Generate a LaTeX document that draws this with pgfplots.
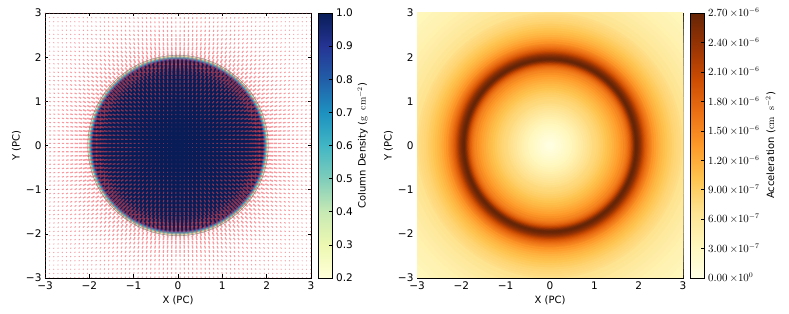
\documentclass[border=0pt]{standalone}
\usepackage[no-math]{fontspec}
\setmainfont{DejaVu Sans}
\usepackage{pgfplots}
\usepackage{pgfplotstable}
\pgfplotsset{compat=1.18}
\pgfplotsset{
 colormap={ylgnbu}{rgb255(0cm)=(255,255,217);rgb255(1cm)=(237,248,177);rgb255(2cm)=(199,233,180);rgb255(3cm)=(127,205,187);rgb255(4cm)=(65,182,196);rgb255(5cm)=(29,145,192);rgb255(6cm)=(34,94,168);rgb255(7cm)=(37,52,148);rgb255(8cm)=(8,29,88)},
 colormap={ylorbr}{rgb255(0cm)=(255,255,229);rgb255(1cm)=(255,247,188);rgb255(2cm)=(254,227,145);rgb255(3cm)=(254,196,79);rgb255(4cm)=(254,153,41);rgb255(5cm)=(236,112,20);rgb255(6cm)=(204,76,2);rgb255(7cm)=(153,52,4);rgb255(8cm)=(102,37,6)},
 panel/.style={
  scale only axis,width=266pt,height=265pt,anchor=south west,
  xmin=-3,xmax=3,ymin=-3,ymax=3,
  xtick={-3,-2,-1,0,1,2,3},ytick={-3,-2,-1,0,1,2,3},
  xticklabels={−3,−2,−1,0,1,2,3},yticklabels={−3,−2,−1,0,1,2,3},
  tick align=inside,major tick length=3.5pt,
  tick style={black,line width=0.5pt},
  axis line style={black,line width=0.8pt},
  tick label style={font=\fontsize{10.5}{12}\selectfont},
  label style={font=\fontsize{10.3}{12}\selectfont},
  xlabel={X (PC)},ylabel={Y (PC)},
  every axis x label/.style={at={(axis description cs:0.5,-0.083)},anchor=center},
  every axis y label/.style={at={(axis description cs:-0.107,0.5)},anchor=center,rotate=90},
  clip marker paths=true,
  colorbar,
  colorbar shift/.style={xshift=1pt},
 },
 disk/.style={
  scatter,only marks,mark=*,
  scatter/use mapped color={fill=mapped color,draw=mapped color},
  mark options={line width=0.1pt},
  visualization depends on={44.2*\thisrow{r} \as \rad},
  scatter/@pre marker code/.append style={/tikz/mark size=\rad},
 },
}
% mean column density against radius
\pgfplotstableread{
r v
2.03 0.35
2.01 0.50
1.99 0.62
1.97 0.75
1.95 0.90
1.93 1.00
}\densitytable
% acceleration against radius, in units of 1e-6
\pgfplotstableread{
r v
4.30 .32
4.20 .34
4.10 .36
4.00 .38
3.90 .40
3.80 .42
3.70 .445
3.60 .47
3.50 .50
3.40 .54
3.30 .58
3.20 .63
3.10 .68
3.00 .73
2.95 .76
2.90 .79
2.85 .82
2.80 .86
2.75 .90
2.70 .95
2.65 1.00
2.60 1.05
2.55 1.10
2.50 1.16
2.45 1.23
2.40 1.31
2.35 1.40
2.30 1.50
2.275 1.56
2.25 1.62
2.225 1.69
2.20 1.77
2.175 1.85
2.15 1.95
2.125 2.07
2.10 2.20
2.075 2.33
2.05 2.45
2.025 2.55
2.00 2.63
1.975 2.69
1.95 2.70
1.925 2.60
1.90 2.45
1.875 2.26
1.85 2.08
1.825 1.93
1.80 1.81
1.775 1.72
1.75 1.64
1.725 1.57
1.70 1.50
1.65 1.42
1.60 1.34
1.55 1.27
1.50 1.22
1.45 1.16
1.40 1.11
1.35 1.06
1.30 1.01
1.25 .96
1.20 .91
1.15 .87
1.10 .83
1.05 .80
1.00 .77
.95 .73
.90 .69
.85 .65
.80 .60
.75 .55
.70 .50
.65 .46
.60 .42
.55 .38
.50 .34
.45 .30
.40 .26
.35 .22
.30 .18
.25 .15
.20 .12
.15 .09
.10 .06
.05 .03
}\acctable
% arrows of one octant: grid indices i>j and magnitude m
\pgfplotstableread{
i j m
1 0 .11
2 0 .18
3 0 .25
4 0 .33
5 0 .41
6 0 .49
7 0 .58
8 0 .67
9 0 .76
10 0 .85
11 0 .95
12 0 1.04
13 0 1.12
14 0 1.2
15 0 1.3
16 0 1.41
17 0 1.55
18 0 1.78
19 0 2.2
20 0 2.7
21 0 2.45
22 0 1.97
23 0 1.66
24 0 1.46
25 0 1.31
26 0 1.18
27 0 1.06
28 0 .96
29 0 .87
30 0 .8
31 0 .74
2 1 .2
3 1 .27
4 1 .35
5 1 .43
6 1 .5
7 1 .59
8 1 .68
9 1 .77
10 1 .86
11 1 .96
12 1 1.05
13 1 1.13
14 1 1.21
15 1 1.31
16 1 1.42
17 1 1.57
18 1 1.8
19 1 2.23
20 1 2.7
21 1 2.42
22 1 1.95
23 1 1.65
24 1 1.45
25 1 1.3
26 1 1.17
27 1 1.06
28 1 .96
29 1 .87
30 1 .8
31 1 .74
3 2 .31
4 2 .39
5 2 .45
6 2 .53
7 2 .61
8 2 .7
9 2 .78
10 2 .88
11 2 .98
12 2 1.06
13 2 1.14
14 2 1.22
15 2 1.32
16 2 1.44
17 2 1.58
18 2 1.83
19 2 2.3
20 2 2.69
21 2 2.38
22 2 1.91
23 2 1.63
24 2 1.44
25 2 1.29
26 2 1.16
27 2 1.05
28 2 .95
29 2 .86
30 2 .8
31 2 .74
4 3 .43
5 3 .49
6 3 .56
7 3 .65
8 3 .73
9 3 .81
10 3 .91
11 3 1.0
12 3 1.08
13 3 1.16
14 3 1.24
15 3 1.34
16 3 1.46
17 3 1.61
18 3 1.89
19 3 2.38
20 3 2.67
21 3 2.31
22 3 1.86
23 3 1.6
24 3 1.42
25 3 1.27
26 3 1.15
27 3 1.04
28 3 .94
29 3 .85
30 3 .79
31 3 .73
5 4 .54
6 4 .61
7 4 .69
8 4 .77
9 4 .85
10 4 .94
11 4 1.03
12 4 1.1
13 4 1.18
14 4 1.27
15 4 1.37
16 4 1.49
17 4 1.65
18 4 1.97
19 4 2.5
20 4 2.63
21 4 2.21
22 4 1.79
23 4 1.56
24 4 1.39
25 4 1.25
26 4 1.14
27 4 1.02
28 4 .93
29 4 .84
30 4 .78
31 4 .72
6 5 .67
7 5 .74
8 5 .81
9 5 .9
10 5 .98
11 5 1.06
12 5 1.13
13 5 1.21
14 5 1.3
15 5 1.4
16 5 1.53
17 5 1.73
18 5 2.1
19 5 2.62
20 5 2.56
21 5 2.11
22 5 1.74
23 5 1.53
24 5 1.36
25 5 1.23
26 5 1.11
27 5 1.01
28 5 .91
29 5 .83
30 5 .77
31 5 .71
7 6 .79
8 6 .87
9 6 .95
10 6 1.03
11 6 1.1
12 6 1.17
13 6 1.25
14 6 1.34
15 6 1.46
16 6 1.59
17 6 1.83
18 6 2.27
19 6 2.7
20 6 2.45
21 6 1.99
22 6 1.68
23 6 1.48
24 6 1.33
25 6 1.2
26 6 1.09
27 6 .99
28 6 .89
29 6 .82
30 6 .76
31 6 .7
8 7 .93
9 7 1.01
10 7 1.07
11 7 1.14
12 7 1.21
13 7 1.29
14 7 1.39
15 7 1.51
16 7 1.67
17 7 1.97
18 7 2.48
19 7 2.65
20 7 2.28
21 7 1.86
22 7 1.6
23 7 1.43
24 7 1.29
25 7 1.17
26 7 1.06
27 7 .96
28 7 .87
29 7 .81
30 7 .75
31 7 .69
9 8 1.06
10 8 1.12
11 8 1.19
12 8 1.26
13 8 1.35
14 8 1.46
15 8 1.58
16 8 1.8
17 8 2.17
18 8 2.65
19 8 2.54
20 8 2.11
21 8 1.75
22 8 1.54
23 8 1.38
24 8 1.25
25 8 1.14
26 8 1.03
27 8 .94
28 8 .85
29 8 .79
30 8 .73
31 8 .68
10 9 1.18
11 9 1.24
12 9 1.32
13 9 1.41
14 9 1.52
15 9 1.68
16 9 1.97
17 9 2.45
18 9 2.67
19 9 2.35
20 9 1.93
21 9 1.66
22 9 1.47
23 9 1.33
24 9 1.2
25 9 1.1
26 9 1.0
27 9 .9
28 9 .83
29 9 .77
30 9 .71
31 9 .67
11 10 1.31
12 10 1.39
13 10 1.49
14 10 1.62
15 10 1.85
16 10 2.23
17 10 2.67
18 10 2.54
19 10 2.13
20 10 1.77
21 10 1.56
22 10 1.4
23 10 1.27
24 10 1.16
25 10 1.05
26 10 .96
27 10 .87
28 10 .81
29 10 .75
30 10 .7
31 10 .65
12 11 1.48
13 11 1.59
14 11 1.78
15 11 2.1
16 11 2.55
17 11 2.64
18 11 2.31
19 11 1.91
20 11 1.66
21 11 1.48
22 11 1.34
23 11 1.22
24 11 1.11
25 11 1.01
26 11 .92
27 11 .84
28 11 .79
29 11 .73
30 11 .68
31 11 .63
13 12 1.75
14 12 2.02
15 12 2.45
16 12 2.69
17 12 2.45
18 12 2.04
19 12 1.74
20 12 1.55
21 12 1.39
22 12 1.27
23 12 1.16
24 12 1.06
25 12 .97
26 12 .89
27 12 .82
28 12 .76
29 12 .71
30 12 .66
31 12 .62
14 13 2.38
15 13 2.7
16 13 2.52
17 13 2.15
18 13 1.81
19 13 1.6
20 13 1.45
21 13 1.33
22 13 1.21
23 13 1.11
24 13 1.01
25 13 .93
26 13 .85
27 13 .79
28 13 .74
29 13 .69
30 13 .64
31 13 .6
15 14 2.56
16 14 2.21
17 14 1.88
18 14 1.66
19 14 1.49
20 14 1.36
21 14 1.25
22 14 1.14
23 14 1.05
24 14 .96
25 14 .88
26 14 .82
27 14 .76
28 14 .71
29 14 .67
30 14 .62
31 14 .58
16 15 1.91
17 15 1.69
18 15 1.53
19 15 1.39
20 15 1.28
21 15 1.18
22 15 1.08
23 15 1.0
24 15 .91
25 15 .84
26 15 .79
27 15 .74
28 15 .69
29 15 .64
30 15 .6
31 15 .56
17 16 1.54
18 16 1.41
19 16 1.31
20 16 1.2
21 16 1.11
22 16 1.02
23 16 .94
24 16 .87
25 16 .81
26 16 .76
27 16 .71
28 16 .66
29 16 .62
30 16 .58
31 16 .55
18 17 1.32
19 17 1.22
20 17 1.12
21 17 1.04
22 17 .96
23 17 .89
24 17 .82
25 17 .77
26 17 .73
27 17 .68
28 17 .64
29 17 .6
30 17 .56
31 17 .53
19 18 1.14
20 18 1.05
21 18 .98
22 18 .9
23 18 .84
24 18 .79
25 18 .74
26 18 .69
27 18 .65
28 18 .61
29 18 .58
30 18 .54
31 18 .52
20 19 .98
21 19 .91
22 19 .85
23 19 .8
24 19 .75
25 19 .7
26 19 .67
27 19 .63
28 19 .59
29 19 .55
30 19 .52
31 19 .5
21 20 .85
22 20 .81
23 20 .76
24 20 .71
25 20 .68
26 20 .64
27 20 .6
28 20 .56
29 20 .53
30 20 .51
31 20 .48
22 21 .76
23 21 .72
24 21 .68
25 21 .64
26 21 .6
27 21 .57
28 21 .54
29 21 .52
30 21 .49
31 21 .47
23 22 .68
24 22 .65
25 22 .61
26 22 .58
27 22 .55
28 22 .52
29 22 .49
30 22 .47
31 22 .45
24 23 .61
25 23 .58
26 23 .55
27 23 .52
28 23 .5
29 23 .48
30 23 .46
31 23 .44
25 24 .55
26 24 .53
27 24 .51
28 24 .48
29 24 .46
30 24 .44
31 24 .42
26 25 .51
27 25 .49
28 25 .46
29 25 .45
30 25 .43
31 25 .41
27 26 .47
28 26 .45
29 26 .43
30 26 .41
31 26 .4
28 27 .43
29 27 .41
30 27 .4
31 27 .38
29 28 .4
30 28 .38
31 28 .37
30 29 .37
31 29 .36
31 30 .34
}\arrowtable
% arrows on the diagonal i=j
\pgfplotstableread{
i j m
0 0 .05
1 1 .15
2 2 .25
3 3 .36
4 4 .47
5 5 .63
6 6 .73
7 7 .86
8 8 1.0
9 9 1.13
10 10 1.23
11 11 1.38
12 12 1.58
13 13 2.0
14 14 2.7
15 15 2.24
16 16 1.7
17 17 1.42
18 18 1.22
19 19 1.05
20 20 .91
21 21 .81
22 22 .72
23 23 .65
24 24 .58
25 25 .53
26 26 .49
27 27 .45
28 28 .41
29 29 .38
30 30 .36
31 31 .33
}\diagtable
\definecolor{arrowred}{RGB}{240,70,80}
\newcommand\quiv[5]{%
 \addplot[
  visualization depends on={\thisrow{m} \as \mval},
  quiver={
   u=-(#1)*0.05*\thisrow{m}*(\thisrow{#3}+.5)/sqrt((\thisrow{#3}+.5)^2+(\thisrow{#4}+.5)^2),
   v=-(#2)*0.05*\thisrow{m}*(\thisrow{#4}+.5)/sqrt((\thisrow{#3}+.5)^2+(\thisrow{#4}+.5)^2),
   every arrow/.append style={draw=arrowred,draw opacity=0.55,line width={0.6pt+0.5pt*\mval},line cap=butt}}]
  table[x expr={(#1)*(\thisrow{#3}+.5)*0.09524},y expr={(#2)*(\thisrow{#4}+.5)*0.09524}]{#5};}
\begin{document}
\begin{tikzpicture}
\path[use as bounding box] (0,0) rectangle (789pt,313pt);
\begin{axis}[panel,at={(45pt,35pt)},
  colormap name=ylgnbu,point meta min=0.2,point meta max=1,
  colorbar style={
   width=14pt,ytick={0.2,0.3,0.4,0.5,0.6,0.7,0.8,0.9,1.0},
   yticklabels={0.2,0.3,0.4,0.5,0.6,0.7,0.8,0.9,1.0},
   ytick pos=right,yticklabel pos=right,tick align=inside,major tick length=3.5pt,
   ylabel={Column Density ($\mathrm{g\ \ cm^{-2}}$)},
   every axis y label/.style={at={(axis description cs:3.14,0.5)},anchor=center,rotate=90},
  }]
 \addplot[disk,scatter src=explicit] table[x expr=0,y expr=0,meta=v]{\densitytable};
 \quiv{1}{1}{i}{j}{\arrowtable}
 \quiv{-1}{1}{i}{j}{\arrowtable}
 \quiv{1}{-1}{i}{j}{\arrowtable}
 \quiv{-1}{-1}{i}{j}{\arrowtable}
 \quiv{1}{1}{j}{i}{\arrowtable}
 \quiv{-1}{1}{j}{i}{\arrowtable}
 \quiv{1}{-1}{j}{i}{\arrowtable}
 \quiv{-1}{-1}{j}{i}{\arrowtable}
 \quiv{1}{1}{i}{j}{\diagtable}
 \quiv{-1}{1}{i}{j}{\diagtable}
 \quiv{1}{-1}{i}{j}{\diagtable}
 \quiv{-1}{-1}{i}{j}{\diagtable}
 \addplot[only marks,mark=o,mark size=90.2,mark options={draw=black!50,draw opacity=0.8,line width=0.6pt}] coordinates {(0,0)};
\end{axis}
\begin{axis}[panel,at={(417pt,35pt)},
  colormap name=ylorbr,point meta min=0,point meta max=2.7,
  colorbar style={
   width=14pt,ytick={0,0.3,0.6,0.9,1.2,1.5,1.8,2.1,2.4,2.7},
   yticklabels={$0.00\,{\times}10^{0}$,$3.00\,{\times}10^{-7}$,$6.00\,{\times}10^{-7}$,$9.00\,{\times}10^{-7}$,$1.20\,{\times}10^{-6}$,$1.50\,{\times}10^{-6}$,$1.80\,{\times}10^{-6}$,$2.10\,{\times}10^{-6}$,$2.40\,{\times}10^{-6}$,$2.70\,{\times}10^{-6}$},
   ytick pos=right,yticklabel pos=right,tick align=inside,major tick length=3.5pt,
   ylabel={Acceleration ($\mathrm{cm\ \ s^{-2}}$)},
   every axis y label/.style={at={(axis description cs:5.71,0.5)},anchor=center,rotate=90},
  }]
 \addplot[disk,scatter src=explicit] table[x expr=0,y expr=0,meta=v]{\acctable};
\end{axis}
\end{tikzpicture}
\end{document}
